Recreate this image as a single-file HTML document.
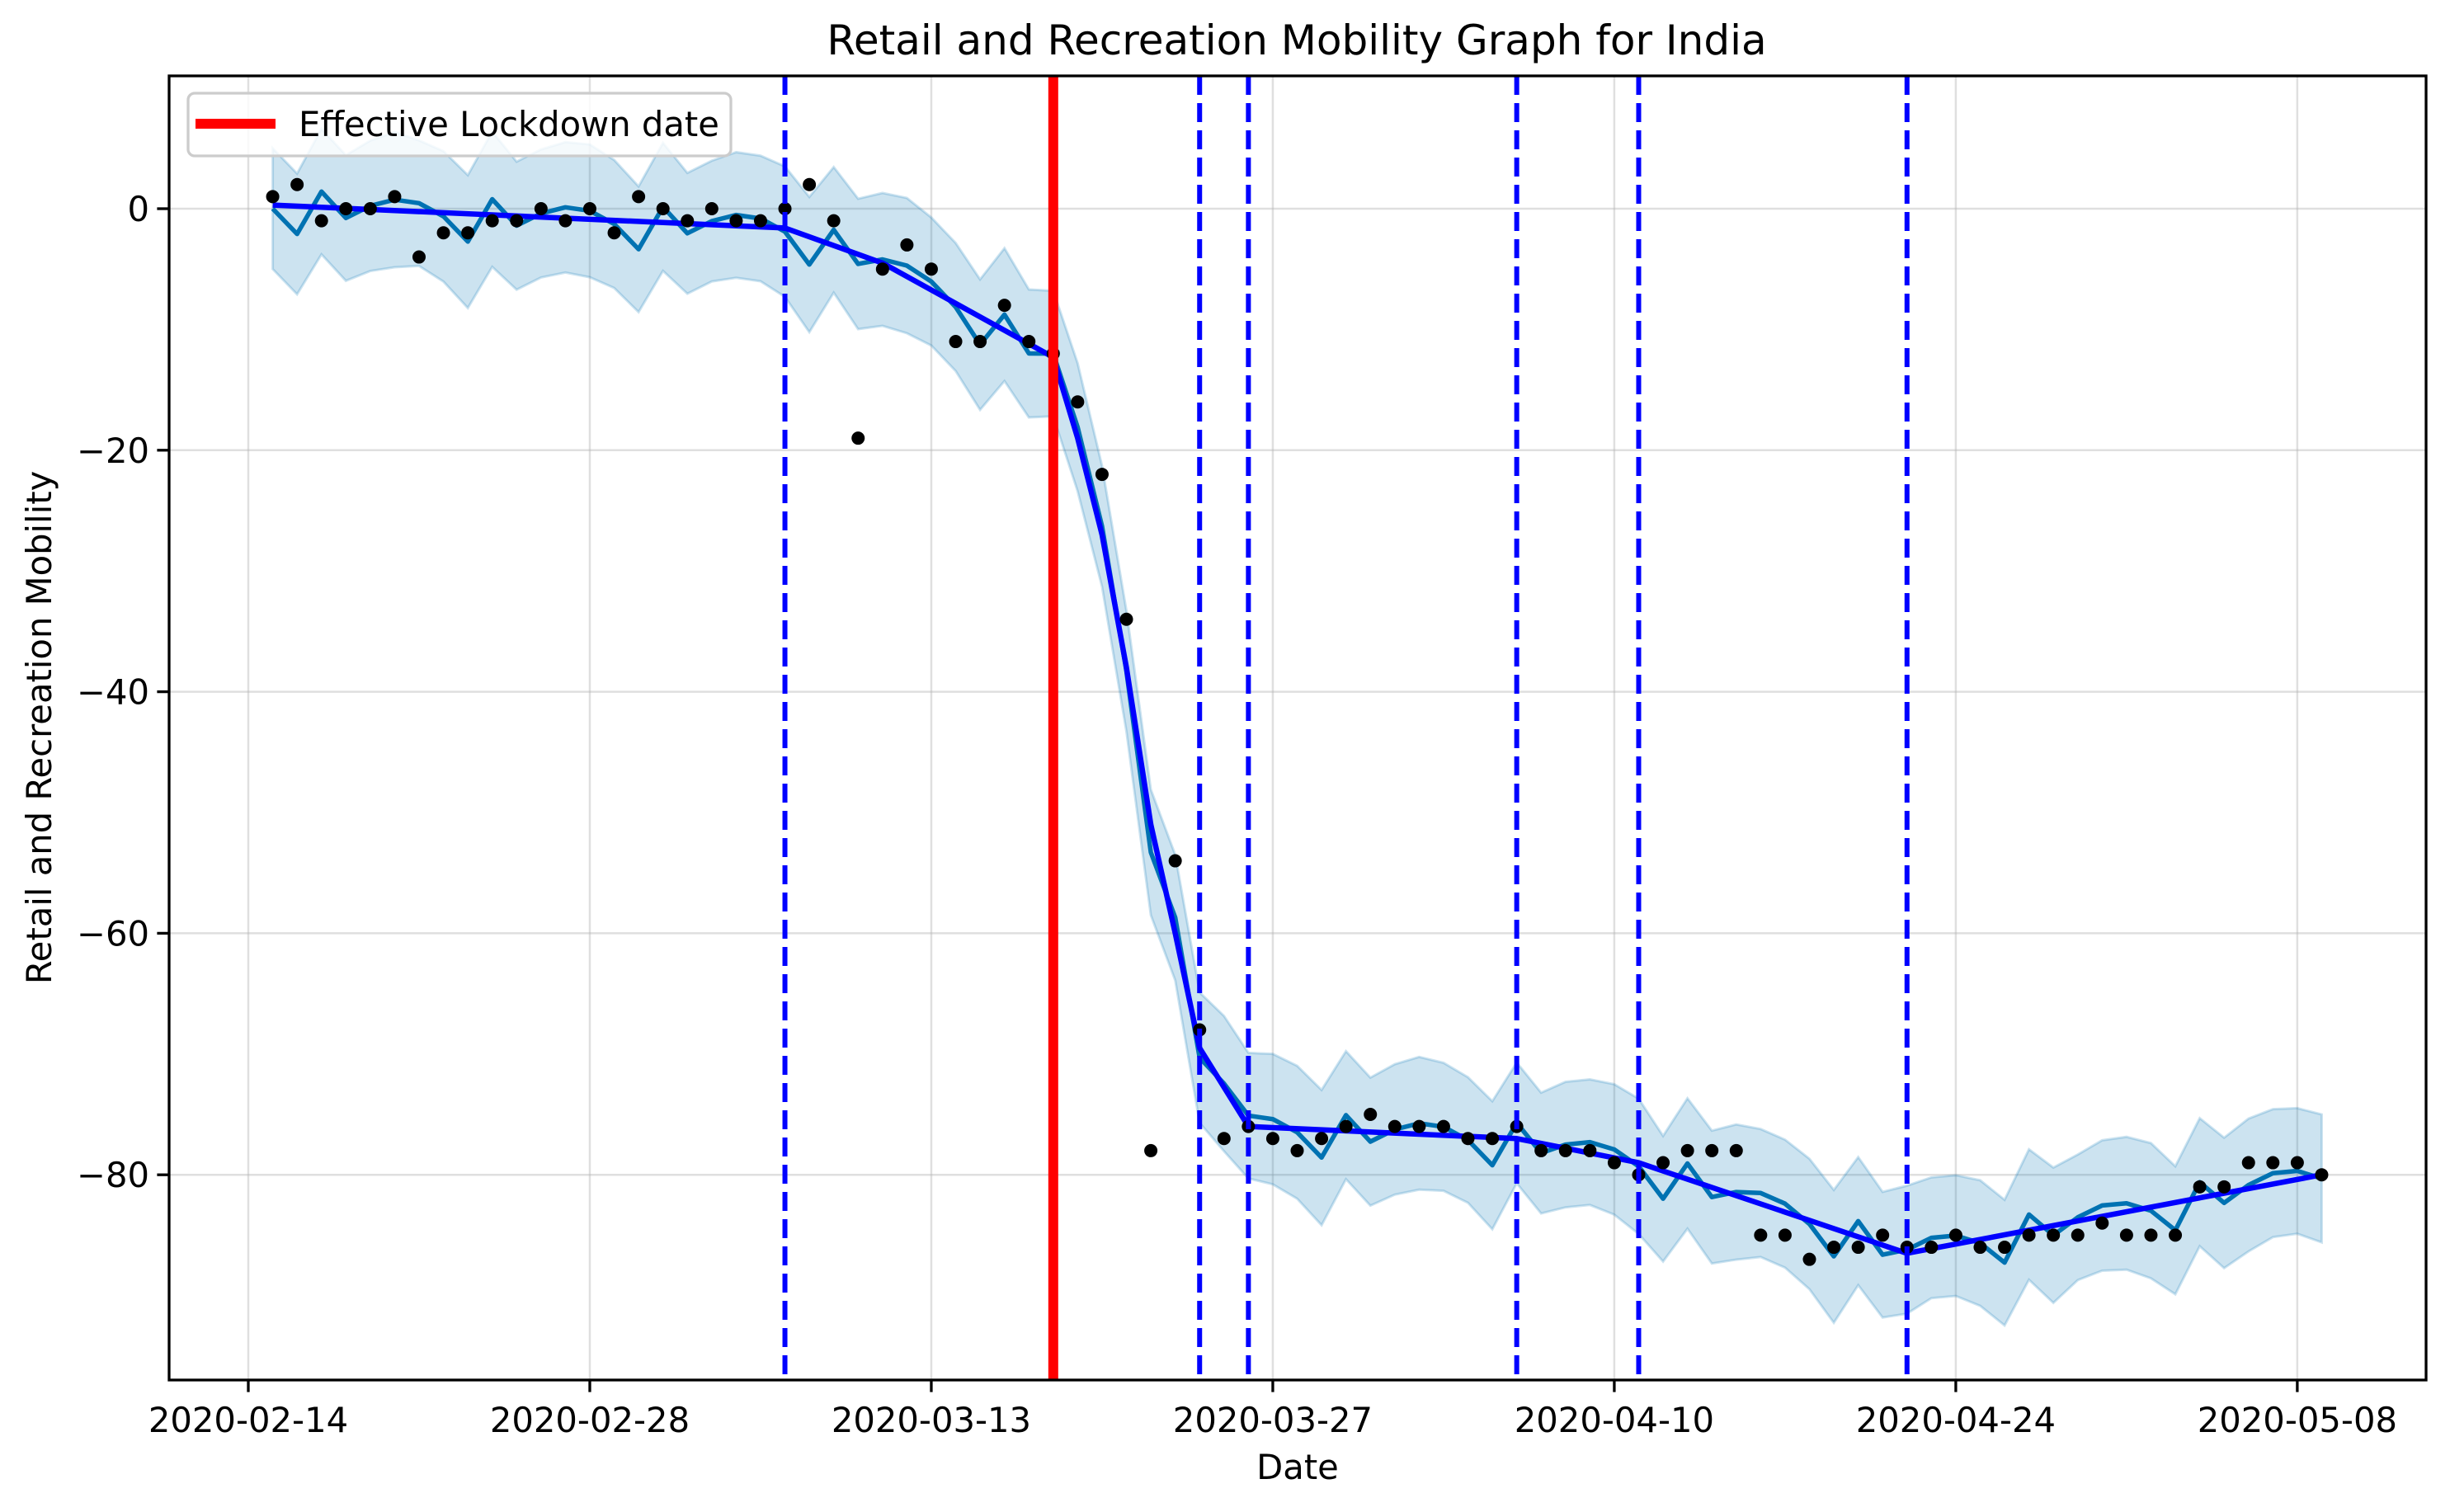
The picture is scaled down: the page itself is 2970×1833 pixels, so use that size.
<!DOCTYPE html>
<html><head><meta charset="utf-8"><style>
html,body{margin:0;padding:0;background:#fff}
svg{display:block;font-family:"DejaVu Sans","Liberation Sans",sans-serif}
</style></head><body>
<svg id="chart" width="2970" height="1833" viewBox="0 0 2970 1833" xmlns="http://www.w3.org/2000/svg">
<rect width="2970" height="1833" fill="#fff"/>
<text x="1572" y="66" font-size="50" text-anchor="middle">Retail and Recreation Mobility Graph for India</text>
<text x="1573" y="1793" font-size="41.7" text-anchor="middle">Date</text>
<text x="0" y="0" font-size="41.7" text-anchor="middle" transform="translate(62,882) rotate(-90)">Retail and Recreation Mobility</text>
<g id="grid"></g><g id="band"></g><g id="lines"></g><g id="dots"></g><g id="vlines"></g><g id="axes"></g>
</svg>
<script>
// data: day index = days since 2020-02-14
const obsDays = [];for(let i=1;i<=85;i++)obsDays.push(i);
const obsValues = [1,2,-1,0,0,1,-4,-2,-2,-1,-1,0,-1,0,-2,1,0,-1,0,-1,-1,0,2,-1,-19,-5,-3,-5,-11,-11,-8,-11,-12,-16,-22,-34,-78,-54,-68,-77,-76,-77,-78,-77,-76,-75,-76,-76,-76,-77,-77,-76,-78,-78,-78,-79,-80,-79,-78,-78,-78,-85,-85,-87,-86,-86,-85,-86,-86,-85,-86,-86,-85,-85,-85,-84,-85,-85,-85,-81,-81,-79,-79,-79,-80];
const trendKnotDays = [1,22,26,33,34,35,36,37,38,39,41,52,57,68,85];
const trendKnotValues = [0.3,-1.6,-4.5,-12.3,-19,-27,-38,-51,-60,-69.5,-76,-77,-79,-86.5,-80];
const weeklyOffsets = [-0.3,-2.3,1.3,-0.8,0.3,0.9,0.7]; // by (day-1) mod 7
const bandHalfWidth = [5.0,5.0,5.2,5.2,5.4,5.6,5.2,5.4,5.5,5.6,5.3,5.3,5.4,5.5,5.3,5.2,5.3];
const lockdownDay = 33;
const changepointDays = [22,39,41,52,57,68];
const xTickDays = [0,14,28,42,56,70,84];
const xTickLabels = ["2020-02-14","2020-02-28","2020-03-13","2020-03-27","2020-04-10","2020-04-24","2020-05-08"];
const yTickValues = [0,-20,-40,-60,-80];
const yTickLabels = ["0","\u221220","\u221240","\u221260","\u221280"];

const L=205,R=2941,T=92,B=1673;
const X=d=>301+d*29.57;
const Y=v=>253-v*14.64;
const NS="http://www.w3.org/2000/svg";
function mk(tag,attrs,parent){const e=document.createElementNS(NS,tag);for(const k in attrs)e.setAttribute(k,attrs[k]);parent.appendChild(e);return e;}
function trendAt(d){for(let i=0;i<trendKnotDays.length-1;i++){const a=trendKnotDays[i],b=trendKnotDays[i+1];if(d>=a&&d<=b){return trendKnotValues[i]+(trendKnotValues[i+1]-trendKnotValues[i])*(d-a)/(b-a);}}return trendKnotValues[trendKnotValues.length-1];}
const g=id=>document.getElementById(id);

// grid
xTickDays.forEach(d=>{const l=mk('line',{x1:X(d),x2:X(d),y1:T,y2:B,stroke:'#b0b0b0','stroke-opacity':0.4,'stroke-width':2.5},g('grid'));
});
yTickValues.forEach(v=>{const l=mk('line',{x1:L,x2:R,y1:Y(v),y2:Y(v),stroke:'#b0b0b0','stroke-opacity':0.4,'stroke-width':2.5},g('grid'));
});

// forecast + band
const yhat=obsDays.map(d=>trendAt(d)+weeklyOffsets[(d-1)%7]);
const hw=obsDays.map((d,i)=>bandHalfWidth[i%bandHalfWidth.length]);
let up=obsDays.map((d,i)=>X(d)+','+Y(yhat[i]+hw[i]));
let lo=obsDays.map((d,i)=>X(d)+','+Y(yhat[i]-hw[i])).reverse();
const band=mk('polygon',{points:up.concat(lo).join(' '),fill:'#0072B2','fill-opacity':0.2,stroke:'#0072B2','stroke-opacity':0.2,'stroke-width':3},g('band'));

const fl=mk('polyline',{points:obsDays.map((d,i)=>X(d)+','+Y(yhat[i])).join(' '),fill:'none',stroke:'#0072B2','stroke-width':5.5,'stroke-linejoin':'round'},g('lines'));

const tl=mk('polyline',{points:trendKnotDays.map((d,i)=>X(d)+','+Y(trendKnotValues[i])).join(' '),fill:'none',stroke:'#0000ff','stroke-width':6.5,'stroke-linejoin':'round'},g('lines'));


// dots
obsDays.forEach((d,i)=>{const c=mk('circle',{cx:X(d),cy:Y(obsValues[i]),r:8,fill:'#000'},g('dots'));
});

// vertical lines
changepointDays.forEach(d=>{const l=mk('line',{x1:X(d),x2:X(d),y1:T,y2:B,stroke:'#0000ff','stroke-width':6,'stroke-dasharray':'23 10'},g('vlines'));
});
const rl=mk('line',{x1:X(lockdownDay),x2:X(lockdownDay),y1:T,y2:B,stroke:'#ff0000','stroke-width':12},g('vlines'));


// axes
const ax=g('axes');
const fr=mk('rect',{x:L,y:T,width:R-L,height:B-T,fill:'none',stroke:'#000','stroke-width':3.3},ax);

xTickDays.forEach((d,i)=>{const t=mk('line',{x1:X(d),x2:X(d),y1:B,y2:B+14.6,stroke:'#000','stroke-width':3.3},ax);

const tx=mk('text',{x:X(d),y:B+63,'font-size':41.7,'text-anchor':'middle'},ax);tx.textContent=xTickLabels[i];
});
yTickValues.forEach((v,i)=>{const t=mk('line',{x1:L-14.6,x2:L,y1:Y(v),y2:Y(v),stroke:'#000','stroke-width':3.3},ax);

const tx=mk('text',{x:L-24,y:Y(v)+15,'font-size':41.7,'text-anchor':'end'},ax);tx.textContent=yTickLabels[i];
});

// legend
const lg=mk('g',{},ax);
mk('rect',{x:228,y:113,width:658,height:76,rx:8,fill:'#fff','fill-opacity':0.8,stroke:'#cccccc','stroke-width':3.3},lg);
const ls=mk('line',{x1:237,x2:334,y1:150,y2:150,stroke:'#ff0000','stroke-width':12},lg);

const lt=mk('text',{x:362,y:165,'font-size':41.7},lg);lt.textContent='Effective Lockdown date';

</script>
</body></html>
